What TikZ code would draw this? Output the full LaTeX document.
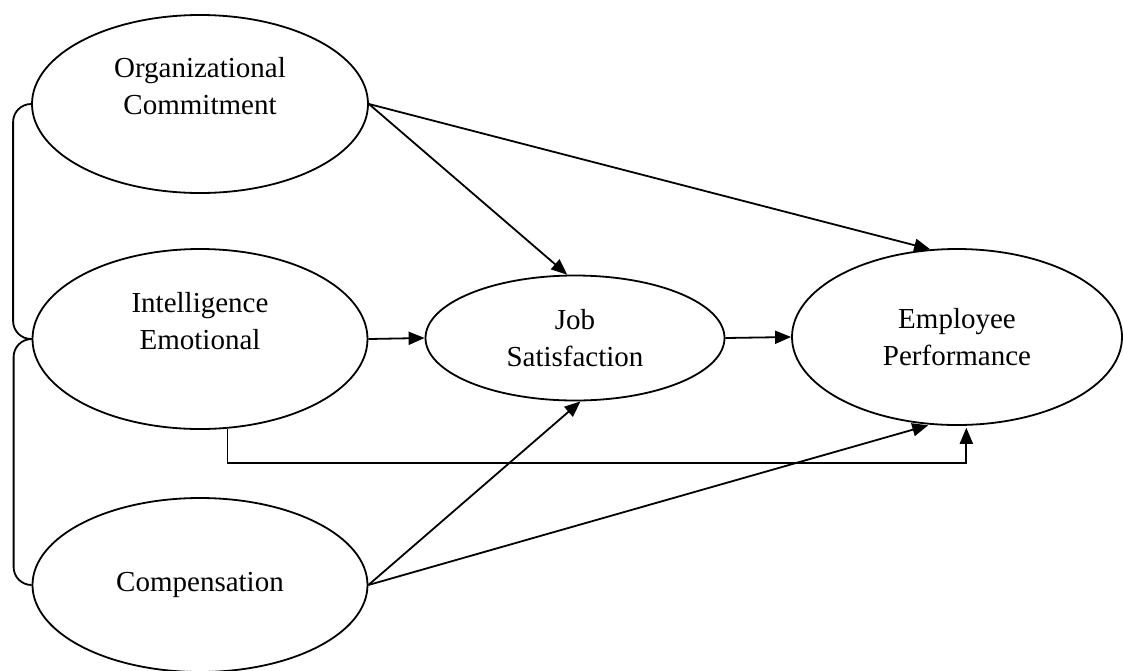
\documentclass[tikz,border=0pt]{standalone}
\usepackage{fontspec}
\setmainfont{Liberation Serif}
\usetikzlibrary{shapes,arrows,arrows.meta}

\tikzset{
	construct/.style={draw, ellipse, line width=1.8pt, inner sep=0pt, align=center, font=\fontsize{29}{37}\selectfont},
	effect/.style={draw, line width=1.8pt, -{Triangle[length=16pt,width=13pt]}},
	link/.style={draw, line width=1.8pt, rounded corners=18pt}
}

\begin{document}
\begin{tikzpicture}[x=1pt, y=-1pt]
		\useasboundingbox (0,0) rectangle (1123,670);

		\node[construct, minimum width=336pt, minimum height=178pt] (org) at (200,104) {Organizational\\Commitment\\~};
		\node[construct, minimum width=335pt, minimum height=180pt] (ie) at (200,339) {Intelligence\\Emotional\\~};
		\node[construct, minimum width=335pt, minimum height=174pt] (comp) at (200,585) {Compensation};
		\node[construct, minimum width=299pt, minimum height=125pt] (job) at (575,338) {Job\\Satisfaction};
		\node[construct, minimum width=330pt, minimum height=176pt] (emp) at (957,337) {Employee\\Performance};

		\draw[link] (org.west) -- ++(-18,0) |- (ie.west);
		\draw[link] (ie.west) -- ++(-18,0) |- (comp.west);

		\draw[effect] (org.east) -- (job.97);
		\draw[effect] (org.east) -- (emp.107);
		\draw[effect] (ie.east) -- (job.west);
		\draw[effect] (job.east) -- (emp.west);
		\draw[effect] (comp.east) -- (job.-85);
		\draw[effect, shorten >=2pt] (comp.east) -- (emp.-107);
		\draw[effect, shorten >=2pt] (ie.-73) -- ++(0,34) -| (emp.-84);

	\end{tikzpicture}
\end{document}
